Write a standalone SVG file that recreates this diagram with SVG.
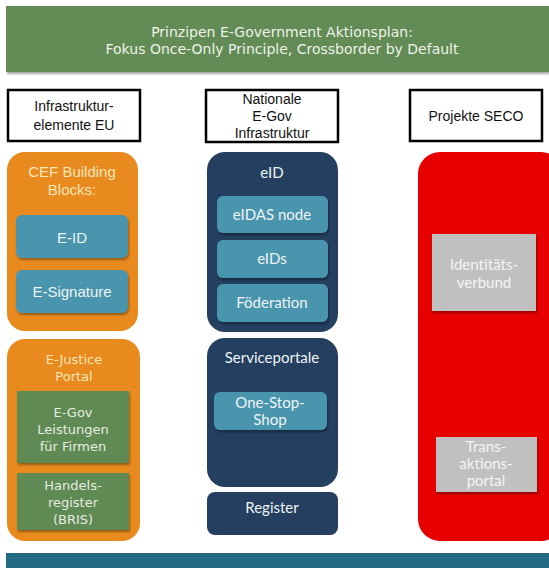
<svg xmlns="http://www.w3.org/2000/svg" width="549" height="568" viewBox="0 0 549 568">
<defs>
<filter id="sh" x="-10%" y="-10%" width="130%" height="130%">
<feDropShadow dx="1" dy="2" stdDeviation="1.2" flood-color="#000" flood-opacity="0.35"/>
</filter>
<style>
.hdr{fill:#fff;stroke:#000;stroke-width:2.5}
.ht{font-family:"Liberation Sans",Arial,sans-serif;font-size:14px;fill:#111;text-anchor:middle}
.ban{font-family:"DejaVu Sans",Verdana,sans-serif;font-size:14px;fill:#EEF2E8;text-anchor:middle}
.or{fill:#E88A1E}
.nv{fill:#243F60}
.tl{fill:#4895AE;filter:url(#sh)}
.gr{fill:#5E8A52;filter:url(#sh)}
.gy{fill:#C0C0C0;filter:url(#sh)}
.t{font-family:"Lato","Open Sans",sans-serif;font-size:15px;text-anchor:middle}
.dv{font-family:"DejaVu Sans",Verdana,sans-serif;font-size:13px;text-anchor:middle}
.ar{font-family:"Liberation Sans",Arial,sans-serif;font-size:15px;text-anchor:middle}
.cr{fill:#F6E6B8}
.wh{fill:#EEF3F3}
.lg{fill:#E6ECE2}
.gt{fill:#F4F4F4}
</style>
</defs>
<rect width="549" height="568" fill="#fff"/>
<g id="banner">
<rect x="6" y="6" width="543" height="66" fill="#628B56" filter="url(#sh)"/>
<text class="ban" x="282" y="37">Prinzipen  E-Government  Aktionsplan:</text>
<text class="ban" x="282" y="54">Fokus  Once-Only  Principle,  Crossborder  by Default</text>
</g>
<g id="hdr-eu">
<rect class="hdr" x="8" y="90" width="132" height="51"/>
<text class="ht" x="74" y="111">Infrastruktur-</text>
<text class="ht" x="74" y="130">elemente EU</text>
</g>
<g id="hdr-nat">
<rect class="hdr" x="206" y="90" width="132" height="52"/>
<text class="ht" x="272" y="104">Nationale</text>
<text class="ht" x="272" y="121">E-Gov</text>
<text class="ht" x="272" y="138">Infrastruktur</text>
</g>
<g id="hdr-seco">
<rect class="hdr" x="410" y="90" width="132" height="51"/>
<text class="ht" x="476" y="121">Projekte SECO</text>
</g>
<g id="cef">
<rect class="or" x="7" y="152" width="131" height="179" rx="18"/>
<text class="ar cr" x="72" y="177">CEF Building</text>
<text class="ar cr" x="72" y="195">Blocks:</text>
</g>
<g id="e-id">
<rect class="tl" x="16" y="215" width="112" height="43" rx="6"/>
<text class="ar wh" x="72" y="243">E-ID</text>
</g>
<g id="e-signature">
<rect class="tl" x="16" y="270" width="112" height="43" rx="6"/>
<text class="ar wh" x="72" y="297">E-Signature</text>
</g>
<g id="ejustice">
<rect class="or" x="7" y="339" width="133" height="202" rx="18"/>
<text class="dv cr" x="74" y="364">E-Justice</text>
<text class="dv cr" x="74" y="381">Portal</text>
</g>
<g id="egov-firmen">
<rect class="gr" x="17" y="391" width="112" height="72"/>
<text class="dv lg" x="73" y="417" font-size="14">E-Gov</text>
<text class="dv lg" x="73" y="434" font-size="14">Leistungen</text>
<text class="dv lg" x="73" y="451" font-size="14">für  Firmen</text>
</g>
<g id="handelsregister">
<rect class="gr" x="17" y="473" width="112" height="57"/>
<text class="dv lg" x="73" y="490" font-size="14">Handels-</text>
<text class="dv lg" x="73" y="507" font-size="14">register</text>
<text class="dv lg" x="73" y="524" font-size="14">(BRIS)</text>
</g>
<g id="eid">
<rect class="nv" x="207" y="152" width="131" height="180" rx="18"/>
<text class="t wh" x="272" y="178">eID</text>
</g>
<g id="eidas-node">
<rect class="tl" x="217" y="196" width="111" height="37" rx="6"/>
<text class="t wh" x="272" y="220">eIDAS node</text>
</g>
<g id="eids">
<rect class="tl" x="217" y="240" width="111" height="38" rx="6"/>
<text class="t wh" x="272" y="264">eIDs</text>
</g>
<g id="foederation">
<rect class="tl" x="217" y="284" width="111" height="38" rx="6"/>
<text class="t wh" x="272" y="308">Föderation</text>
</g>
<g id="serviceportale">
<rect class="nv" x="207" y="338" width="131" height="149" rx="18"/>
<text class="t wh" x="272" y="363">Serviceportale</text>
</g>
<g id="one-stop-shop">
<rect class="tl" x="214" y="392" width="113" height="38" rx="6"/>
<text class="t wh" x="270" y="408" font-size="13">One-Stop-</text>
<text class="t wh" x="270" y="425" font-size="13">Shop</text>
</g>
<g id="register">
<rect class="nv" x="207" y="492" width="131" height="43" rx="8"/>
<text class="t wh" x="272" y="513">Register</text>
</g>
<g id="seco">
<rect x="418" y="152" width="145" height="389" rx="22" fill="#E60000"/>
</g>
<g id="identitaetsverbund">
<rect class="gy" x="432" y="234" width="104" height="77"/>
<text class="t gt" x="484" y="270">Identitäts-</text>
<text class="t gt" x="484" y="288">verbund</text>
</g>
<g id="transaktionsportal">
<rect class="gy" x="436" y="437" width="101" height="55"/>
<text class="t gt" x="486" y="452" font-size="14">Trans-</text>
<text class="t gt" x="486" y="469" font-size="14">aktions-</text>
<text class="t gt" x="486" y="486" font-size="14">portal</text>
</g>
<g id="bottom-band">
<rect x="6" y="553" width="543" height="15" fill="#236A83"/>
</g>
<g id="connectors"></g>
</svg>
